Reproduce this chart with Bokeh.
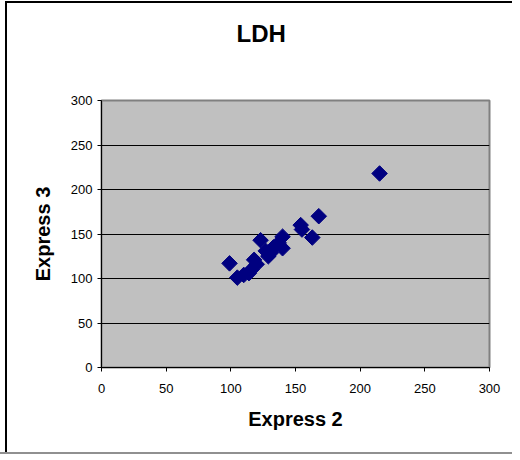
from bokeh.plotting import figure
from bokeh.models import Range1d, FixedTicker, Title
from bokeh.embed import file_html
from bokeh.resources import INLINE

title_text = "LDH"
x_label = "Express 2"
y_label = "Express 3"
tick_values = [0, 50, 100, 150, 200, 250, 300]

express2 = [215, 168, 154, 155, 163, 123, 140, 137, 133, 140, 129, 131, 118, 120, 99, 114, 105, 110, 116, 127]
express3 = [218, 170, 160, 155, 146, 143, 147, 140, 135, 134, 125, 129, 121, 116, 117, 106, 101, 104, 110, 131]

FONT = "Liberation Sans"

p = figure(width=512, height=452, output_backend="svg", toolbar_location=None,
           x_range=Range1d(0, 300), y_range=Range1d(0, 300),
           min_border_left=101, min_border_right=23, min_border_top=100, min_border_bottom=85)

p.background_fill_color = "#C0C0C0"
p.border_fill_color = None
p.outline_line_color = "#808080"
p.outline_line_width = 2

# spacer between the plot area and the title (first added = closest to the frame)
p.add_layout(Title(text=" ", text_font=FONT, text_font_size="22px", standoff=26), "above")
p.add_layout(Title(text=title_text, align="left", vertical_align="middle", offset=135, standoff=0,
                   text_font=FONT, text_font_size="24px", text_font_style="bold",
                   text_color="black"), "above")

for ax, lab in ((p.xaxis[0], x_label), (p.yaxis[0], y_label)):
    ax.ticker = FixedTicker(ticks=tick_values)
    ax.axis_label = lab
    ax.axis_label_text_font = FONT
    ax.axis_label_text_font_size = "20px"
    ax.axis_label_text_font_style = "bold"
    ax.axis_label_text_color = "black"
    ax.major_label_text_font = FONT
    ax.major_label_text_font_size = "13px"
    ax.major_label_text_color = "black"
    ax.axis_line_color = "black"
    ax.major_tick_line_color = "black"
    ax.major_tick_in = 0
    ax.major_tick_out = 4
    ax.minor_tick_line_color = None

p.xaxis.major_label_standoff = 12
p.xaxis.axis_label_standoff = 12
p.yaxis.major_label_standoff = 5
p.yaxis.axis_label_standoff = 14

p.xgrid.grid_line_color = None
p.ygrid.grid_line_color = "black"
p.ygrid.grid_line_width = 1

p.scatter(express2, express3, marker="square", angle=0.785398, size=11,
          fill_color="#000080", line_color="#000080")

p.styles = {"background-color": "white",
            "box-shadow": "inset 5px 1px 0 0 white, inset 7px 3px 0 0 black, 0 2px 0 0 #909090"}

open("out.html", "w").write(file_html(p, INLINE))
